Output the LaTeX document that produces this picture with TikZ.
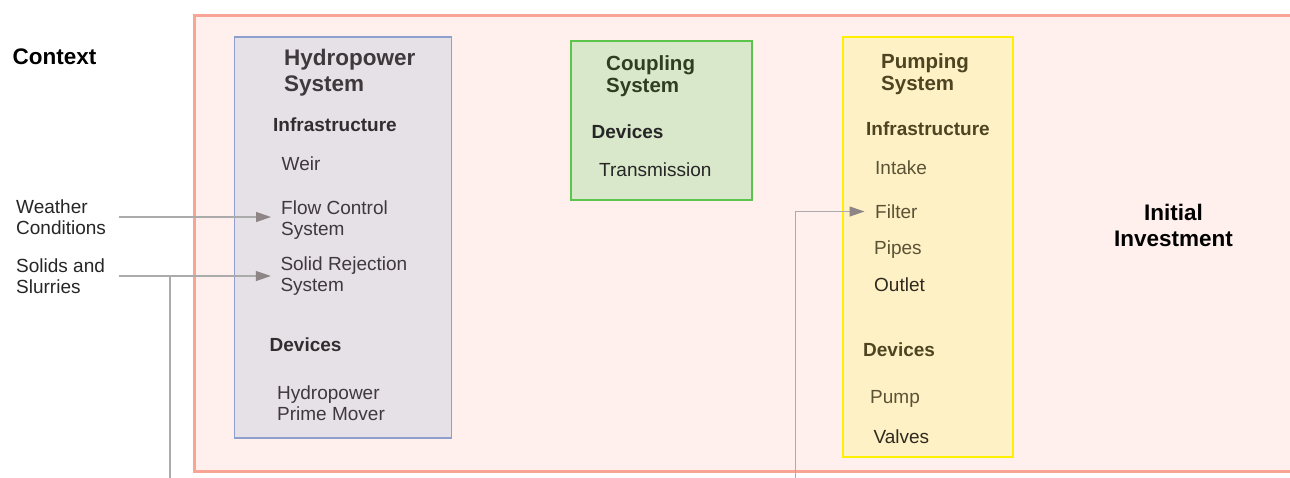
\documentclass[tikz,border=0pt]{standalone}
\usepackage{fontspec}
\setmainfont{Liberation Sans}
\usetikzlibrary{arrows.meta}
\definecolor{outerfill}{HTML}{FFF0EE}
\definecolor{outerdraw}{HTML}{F9A595}
\definecolor{hydrofill}{HTML}{E6E0E7}
\definecolor{hydrodraw}{HTML}{8E9FCE}
\definecolor{coupfill}{HTML}{D9E7CA}
\definecolor{coupdraw}{HTML}{5BC44A}
\definecolor{pumpfill}{HTML}{FFF1C6}
\definecolor{pumpdraw}{HTML}{FFF000}
\definecolor{hydrotxt}{HTML}{3E393C}
\definecolor{couptxt}{HTML}{2F3D20}
\definecolor{pumptxt}{HTML}{4D4521}
\definecolor{pumpitem}{HTML}{5A5234}
\definecolor{pumpdark}{HTML}{2E2A1E}
\definecolor{linecol}{HTML}{ABABAB}
\definecolor{headcol}{HTML}{8E8587}
\tikzset{
  txt/.style={inner sep=0pt, anchor=base west, align=left},
  item/.style={txt, font=\fontsize{19}{21}\selectfont},
  head/.style={txt, font=\bfseries\fontsize{19}{21}\selectfont},
  title/.style={txt, font=\bfseries\fontsize{22.5}{26}\selectfont},
  subtitle/.style={txt, font=\bfseries\fontsize{20.5}{22}\selectfont},
  conn/.style={draw=linecol, line width=1.2pt},
  arr/.style={conn, -{Triangle[length=15pt,width=10pt,color=headcol]}},
}
\begin{document}
\begin{tikzpicture}[x=1pt,y=-1pt]
\clip (0,0) rectangle (1290,477);
\fill[white] (0,0) rectangle (1290,477);
% outer context box
\draw[fill=outerfill, draw=outerdraw, line width=3pt] (194.5,15) rectangle (1310,471);
% system boxes
\draw[fill=hydrofill, draw=hydrodraw, line width=1.2pt] (234.5,37) rectangle (451.5,438);
\draw[fill=coupfill, draw=coupdraw, line width=2pt] (571,40.5) rectangle (752,200);
\draw[fill=pumpfill, draw=pumpdraw, line width=2pt] (842.5,37) rectangle (1013,456.5);

% context labels (multi-line nodes: base = last line's baseline)
\node[title] (context) at (12.5,64) {Context};
\node[item, text=black!85] (weather) at (16,234.3) {Weather\\Conditions};
\node[item, text=black!85] (solids) at (16,293.3) {Solids and\\Slurries};

% hydropower system
\node[title, text=hydrotxt] (hydtitle) at (284,91.3) {Hydropower\\System};
\node[head, text=hydrotxt!80!black] (hydinfra) at (273,131) {Infrastructure};
\node[item, text=hydrotxt] (weir) at (281.5,170.5) {Weir};
\node[item, text=hydrotxt] (flow) at (281,235.3) {Flow Control\\System};
\node[item, text=hydrotxt] (solidrej) at (280.3,291.7) {Solid Rejection\\System};
\node[head, text=hydrotxt!80!black] (hyddev) at (269.5,351.7) {Devices};
\node[item, text=hydrotxt] (primemover) at (277,420) {Hydropower\\Prime Mover};

% coupling system
\node[subtitle, text=couptxt] (couptitle) at (606,92) {Coupling\\System};
\node[head, text=black!85] (coupdev) at (591.5,138.3) {Devices};
\node[item, text=black!85] (transmission) at (599,176.7) {Transmission};

% pumping system
\node[subtitle, text=pumptxt] (pumptitle) at (881,90.3) {Pumping\\System};
\node[head, text=pumptxt] (pumpinfra) at (866,135) {Infrastructure};
\node[item, text=pumpitem] (intake) at (875,174.3) {Intake};
\node[item, text=pumpitem] (filter) at (875,218.3) {Filter};
\node[item, text=pumpitem] (pipes) at (874,254.3) {Pipes};
\node[item, text=pumpdark] (outlet) at (874,291) {Outlet};
\node[head, text=pumptxt] (pumpdev) at (863,356) {Devices};
\node[item, text=pumpitem] (pump) at (870,403.3) {Pump};
\node[item, text=pumpdark] (valves) at (873.3,443.3) {Valves};

% initial investment
\node[title, anchor=base, align=center, font=\bfseries\fontsize{22.5}{26}\selectfont] (invest) at (1173.5,246.7) {Initial\\Investment};

% connectors
\coordinate (ws) at ([xshift=13pt]weather.east);
\coordinate (ss) at ([xshift=14.3pt]solids.east);
\coordinate (b1) at (170,480);
\coordinate (b2) at (795.5,480);
\draw[arr] (ws) -- ([xshift=-10pt]ws -| flow.west);
\draw[arr] (ss) -- ([xshift=-9.5pt]ss -| solidrej.west);
\draw[conn] (b1) -- (b1 |- ss);
\draw[arr] (b2) |- ([xshift=-10.5pt]filter.west);
\end{tikzpicture}
\end{document}
